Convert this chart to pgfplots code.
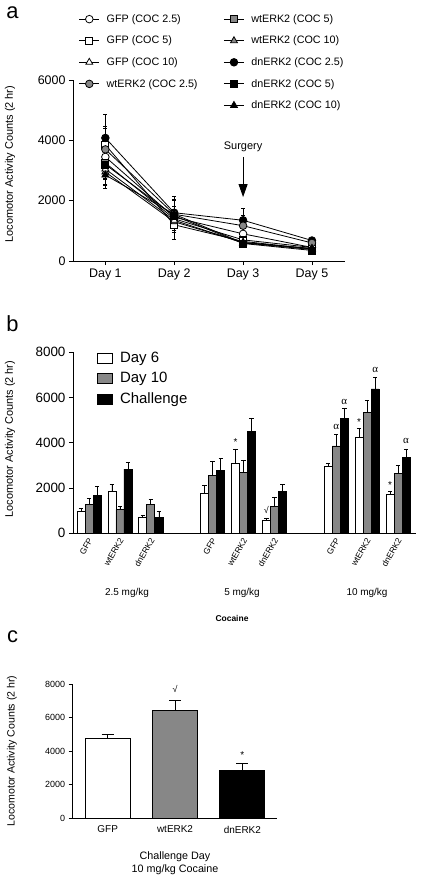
\documentclass[border=0pt]{standalone}
\usepackage{pgfplots}
\pgfplotsset{compat=1.18}
\usepackage{fontspec}
\setmainfont{Liberation Sans}
\newfontfamily\greekserif{Liberation Serif}
\usetikzlibrary{arrows.meta}
\definecolor{mygray}{RGB}{135,135,135}
\pgfplotsset{
  base/.style={
    scale only axis, clip=false,
    axis x line=bottom, axis y line=left,
    axis line style={-, line width=0.8bp, black},
    tick style={line width=0.8bp, black},
    major tick length=4bp,
    tick align=outside,
    /pgf/number format/assume math mode=true,
    /pgf/number format/1000 sep={},
    ymin=0,
  },
  aerr/.style={error bars/.cd, y dir=both, y explicit,
    error bar style={line width=0.8bp, black},
    error mark options={rotate=90, black, line width=0.8bp, mark size=2bp}},
  berr/.style={error bars/.cd, y dir=plus, y explicit,
    error bar style={line width=0.8bp, black},
    error mark options={rotate=90, black, line width=0.8bp, mark size=2.2bp}},
  cerr/.style={error bars/.cd, y dir=plus, y explicit,
    error bar style={line width=1bp, black},
    error mark options={rotate=90, black, line width=1bp, mark size=6bp}},
  boxlegend/.style={legend image code/.code={\draw[##1, draw=black, line width=0.8bp] (0bp,-5bp) rectangle (15bp,5bp);}},
  ser/.style={black, line width=0.8bp, mark options={line width=0.8bp, draw=black}},
}
\begin{document}
\begin{tikzpicture}
\path[use as bounding box] (0bp,0bp) rectangle (422bp,-881bp);

% ---------------- Panel a ----------------
\begin{axis}[base, at={(73bp,-261bp)}, anchor=south west,
  width=272bp, height=181bp,
  xmin=-0.47, xmax=3.48, ymax=6000,
  ytick={0,2000,4000,6000}, xtick={0,1,2,3},
  xticklabels={Day 1,Day 2,Day 3,Day 5},
  ticklabel style={font=\fontsize{12.5}{15}\selectfont},
  legend columns=2, legend cell align=left,
  legend style={at={(0.01,1.385)}, anchor=north west, draw=none, fill=none,
    font=\fontsize{10.8}{13}\selectfont, row sep=8.3bp,
    /tikz/every odd column/.append style={column sep=5bp},
    /tikz/every even column/.append style={column sep=24bp}},
  legend image code/.code={\draw[mark repeat=2,mark phase=2,#1] plot coordinates {(0bp,0bp) (10bp,0bp) (20bp,0bp)};},
]
\addplot[ser, mark=*, mark size=3.8bp, mark options={fill=white}, aerr] coordinates {(0,3450) +- (0,550) (1,1450) +- (0,350) (2,900) +- (0,250) (3,450) +- (0,80)};
\addlegendentry{GFP (COC 2.5)}
\addplot[ser, mark=square*, mark size=3.5bp, mark options={fill=mygray}, aerr] coordinates {(0,3250) +- (0,500) (1,1400) +- (0,300) (2,700) +- (0,200) (3,450) +- (0,80)};
\addlegendentry{wtERK2 (COC 5)}
\addplot[ser, mark=square*, mark size=3.5bp, mark options={fill=white}, aerr] coordinates {(0,3850) +- (0,600) (1,1200) +- (0,500) (2,650) +- (0,150) (3,400) +- (0,70)};
\addlegendentry{GFP (COC 5)}
\addplot[ser, mark=triangle*, mark size=4bp, mark options={fill=mygray}, aerr] coordinates {(0,2950) +- (0,450) (1,1300) +- (0,300) (2,620) +- (0,150) (3,400) +- (0,70)};
\addlegendentry{wtERK2 (COC 10)}
\addplot[ser, mark=triangle*, mark size=4bp, mark options={fill=white}, aerr] coordinates {(0,3050) +- (0,500) (1,1350) +- (0,350) (2,600) +- (0,150) (3,380) +- (0,60)};
\addlegendentry{GFP (COC 10)}
\addplot[ser, mark=*, mark size=3.8bp, mark options={fill=black}, aerr] coordinates {(0,4080) +- (0,790) (1,1600) +- (0,400) (2,1350) +- (0,380) (3,680) +- (0,80)};
\addlegendentry{dnERK2 (COC 2.5)}
\addplot[ser, mark=*, mark size=3.8bp, mark options={fill=mygray}, aerr] coordinates {(0,3700) +- (0,700) (1,1550) +- (0,450) (2,1170) +- (0,350) (3,600) +- (0,90)};
\addlegendentry{wtERK2 (COC 2.5)}
\addplot[ser, mark=square*, mark size=3.5bp, mark options={fill=black}, aerr] coordinates {(0,3200) +- (0,500) (1,1500) +- (0,550) (2,580) +- (0,120) (3,350) +- (0,60)};
\addlegendentry{dnERK2 (COC 5)}
\addlegendimage{empty legend}
\addlegendentry{}
\addplot[ser, mark=triangle*, mark size=4bp, mark options={fill=black}, aerr] coordinates {(0,2850) +- (0,450) (1,1550) +- (0,600) (2,600) +- (0,130) (3,420) +- (0,70)};
\addlegendentry{dnERK2 (COC 10)}
\node[font=\fontsize{11}{13}\selectfont] at (axis cs:2,3780) {Surgery};
\draw[line width=1bp, -{Triangle[width=9bp,length=13bp]}] (axis cs:2,3450) -- (axis cs:2,2120);
\end{axis}

% ---------------- Panel b ----------------
\begin{axis}[base, at={(73bp,-533.3bp)}, anchor=south west,
  width=343bp, height=181bp,
  xmin=-0.52, xmax=10.58, ymax=8000,
  ytick={0,2000,4000,6000,8000},
  xtick={0,1,2,4,5,6,8,9,10},
  xticklabels={GFP,wtERK2,dnERK2,GFP,wtERK2,dnERK2,GFP,wtERK2,dnERK2},
  yticklabel style={font=\fontsize{13.5}{16}\selectfont},
  xticklabel style={font=\fontsize{8.5}{9}\selectfont, rotate=60, anchor=east, inner sep=0.5bp, yshift=-2bp},
  x tick style={draw=none},
  legend cell align=left,
  legend style={at={(0.06,1.025)}, anchor=north west, draw=none, fill=none,
    font=\fontsize{15}{17}\selectfont, row sep=4.5bp,
    /tikz/every odd column/.append style={column sep=5.5bp}},
]
\addplot[ybar, bar width=0.26, bar shift=0, fill=white, draw=black, line width=0.8bp, boxlegend, berr] coordinates {
(-0.26,990) +- (0,110) (0.74,1870) +- (0,290) (1.74,690) +- (0,90)
(3.74,1750) +- (0,350) (4.74,3110) +- (0,620) (5.74,590) +- (0,70)
(7.74,2940) +- (0,170) (8.74,4240) +- (0,380) (9.74,1740) +- (0,110)};
\addlegendentry{Day 6}
\addplot[ybar, bar width=0.26, bar shift=0, fill=mygray, draw=black, line width=0.8bp, boxlegend, berr] coordinates {
(0,1280) +- (0,270) (1,1045) +- (0,135) (2,1280) +- (0,220)
(4,2560) +- (0,620) (5,2700) +- (0,510) (6,1190) +- (0,400)
(8,3860) +- (0,520) (9,5350) +- (0,530) (10,2650) +- (0,360)};
\addlegendentry{Day 10}
\addplot[ybar, bar width=0.26, bar shift=0, fill=black, draw=black, line width=0.8bp, boxlegend, berr] coordinates {
(0.26,1690) +- (0,390) (1.26,2840) +- (0,300) (2.26,720) +- (0,270)
(4.26,2780) +- (0,520) (5.26,4490) +- (0,610) (6.26,1860) +- (0,300)
(8.26,5080) +- (0,440) (9.26,6380) +- (0,520) (10.26,3360) +- (0,370)};
\addlegendentry{Challenge}
\node[font=\greekserif\fontsize{11}{13}\selectfont] at (axis cs:8,4680) {α};
\node[font=\greekserif\fontsize{11}{13}\selectfont] at (axis cs:8.26,5815) {α};
\node[font=\greekserif\fontsize{11}{13}\selectfont] at (axis cs:9.26,7215) {α};
\node[font=\greekserif\fontsize{11}{13}\selectfont] at (axis cs:10.26,4080) {α};
\node[font=\fontsize{10}{12}\selectfont] at (axis cs:8.74,4900) {*};
\node[font=\fontsize{10}{12}\selectfont] at (axis cs:9.74,2120) {*};
\node[font=\fontsize{10}{12}\selectfont] at (axis cs:4.74,4030) {*};
\node[font=\fontsize{9}{11}\selectfont] at (axis cs:5.74,1030) {√};
\end{axis}

% ---------------- Panel c ----------------
\begin{axis}[base, at={(72.7bp,-818.3bp)}, anchor=south west,
  width=204bp, height=134bp,
  xmin=-0.52, xmax=2.51, ymax=8000,
  ytick={0,2000,4000,6000,8000},
  xtick={0,1,2}, xticklabels={GFP,wtERK2,dnERK2},
  yticklabel style={font=\fontsize{9}{11}\selectfont},
  xticklabel style={font=\fontsize{10}{12}\selectfont},
  x tick style={draw=none},
]
\addplot[ybar, bar width=0.67, bar shift=0, fill=white, draw=black, line width=1bp, cerr] coordinates {(0,4750) +- (0,280)};
\addplot[ybar, bar width=0.67, bar shift=0, fill=mygray, draw=black, line width=1bp, cerr] coordinates {(1,6450) +- (0,600)};
\addplot[ybar, bar width=0.67, bar shift=0, fill=black, draw=black, line width=1bp, cerr] coordinates {(2,2830) +- (0,470)};
\node[font=\fontsize{9}{11}\selectfont] at (axis cs:1,7700) {√};
\node[font=\fontsize{10}{12}\selectfont] at (axis cs:2,3780) {*};
\end{axis}

% ---------------- free texts ----------------
\node[font=\fontsize{22}{24}\selectfont] at (12.5bp,-12.5bp) {a};
\node[font=\fontsize{22}{24}\selectfont] at (12.5bp,-324bp) {b};
\node[font=\fontsize{22}{24}\selectfont] at (12.5bp,-636.5bp) {c};
\node[rotate=90, font=\fontsize{11}{13}\selectfont] at (10bp,-164bp) {Locomotor Activity Counts (2 hr)};
\node[rotate=90, font=\fontsize{11}{13}\selectfont] at (10bp,-439bp) {Locomotor Activity Counts (2 hr)};
\node[rotate=90, font=\fontsize{10.6}{13}\selectfont] at (12bp,-751bp) {Locomotor Activity Counts (2 hr)};
\node[font=\fontsize{10}{12}\selectfont] at (127bp,-593bp) {2.5 mg/kg};
\node[font=\fontsize{10}{12}\selectfont] at (242bp,-593bp) {5 mg/kg};
\node[font=\fontsize{10}{12}\selectfont] at (367bp,-593bp) {10 mg/kg};
\node[font=\bfseries\fontsize{8.5}{10}\selectfont] at (232bp,-618bp) {Cocaine};
\node[font=\fontsize{10.8}{13}\selectfont] at (175bp,-857bp) {Challenge Day};
\node[font=\fontsize{10.8}{13}\selectfont] at (175bp,-869.5bp) {10 mg/kg Cocaine};
\end{tikzpicture}
\end{document}
